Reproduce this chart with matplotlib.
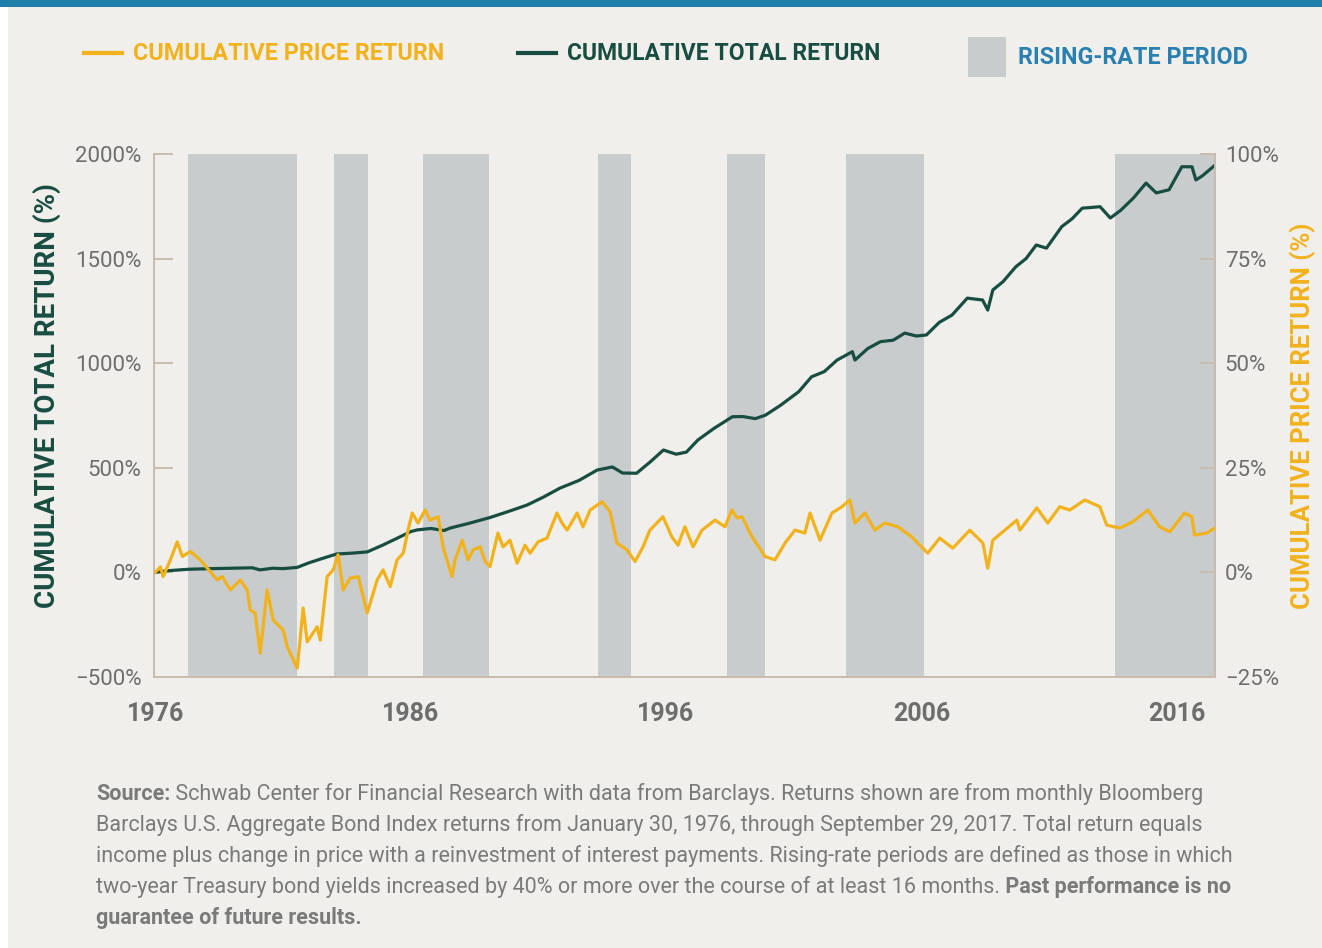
import matplotlib
matplotlib.use("Agg")
import matplotlib.pyplot as plt
from matplotlib.lines import Line2D
from matplotlib.patches import Rectangle
from matplotlib.ticker import FuncFormatter

# ---- data ----
total_years = [1976.0, 1976.5, 1977.3, 1978.2, 1979.0, 1979.8, 1980.1, 1980.6, 1981.0, 1981.56,
               1982.0, 1982.5, 1983.1, 1983.7, 1984.3, 1984.9, 1985.5, 1986.0, 1986.25, 1986.8,
               1987.3, 1987.55, 1988.3, 1989.1, 1989.8, 1990.56, 1991.2, 1991.85, 1992.6, 1993.3,
               1993.9, 1994.3, 1994.85, 1995.4, 1995.9, 1996.4, 1996.8, 1997.25, 1997.9, 1998.6,
               1999.0, 1999.5, 1999.9, 2000.5, 2001.2, 2001.7, 2002.2, 2002.7, 2003.3, 2003.4,
               2003.9, 2004.4, 2004.9, 2005.35, 2005.8, 2006.2, 2006.7, 2007.2, 2007.8, 2008.4,
               2008.6, 2008.8, 2009.2, 2009.7, 2010.1, 2010.5, 2010.9, 2011.5, 2011.9, 2012.3,
               2013.0, 2013.4, 2013.8, 2014.3, 2014.8, 2015.2, 2015.7, 2016.2, 2016.6, 2016.75,
               2017.0, 2017.5]
total_return = [0, 8, 15, 18, 20, 22, 12, 20, 18, 24,
                45, 65, 88, 92, 98, 130, 165, 195, 203, 210,
                200, 212, 235, 262, 290, 322, 360, 403, 440, 489,
                504, 475, 474, 530, 585, 565, 575, 633, 690, 744,
                745, 735, 752, 800, 864, 935, 960, 1015, 1055, 1015,
                1070, 1103, 1110, 1144, 1130, 1135, 1195, 1230, 1311, 1302,
                1254, 1350, 1390, 1461, 1500, 1565, 1550, 1653, 1690, 1741,
                1748, 1694, 1730, 1789, 1861, 1814, 1829, 1939, 1939, 1876,
                1895, 1947]

price_years = [1976.00, 1976.20, 1976.31, 1976.59, 1976.86, 1977.06, 1977.37, 1977.76, 1978.04, 1978.43,
               1978.62, 1978.94, 1979.33, 1979.60, 1979.72, 1979.91, 1980.11, 1980.38, 1980.62, 1981.01,
               1981.17, 1981.56, 1981.79, 1981.95, 1982.34, 1982.46, 1982.73, 1982.97, 1983.16, 1983.36,
               1983.63, 1983.95, 1984.30, 1984.69, 1984.92, 1985.20, 1985.47, 1985.71, 1985.90, 1986.06,
               1986.29, 1986.57, 1986.76, 1987.08, 1987.27, 1987.62, 1987.74, 1988.02, 1988.25, 1988.45,
               1988.72, 1988.92, 1989.11, 1989.42, 1989.62, 1989.89, 1990.17, 1990.48, 1990.68, 1990.99,
               1991.34, 1991.73, 1991.93, 1992.13, 1992.52, 1992.75, 1993.03, 1993.50, 1993.81, 1994.08,
               1994.47, 1994.79, 1995.10, 1995.37, 1995.88, 1996.23, 1996.47, 1996.74, 1997.06, 1997.41,
               1997.92, 1998.31, 1998.58, 1998.78, 1998.98, 1999.37, 1999.88, 2000.27, 2000.66, 2001.05,
               2001.44, 2001.64, 2002.03, 2002.50, 2002.89, 2003.20, 2003.40, 2003.79, 2004.18, 2004.57,
               2005.08, 2005.62, 2006.25, 2006.72, 2007.23, 2007.90, 2008.41, 2008.60, 2008.80, 2009.74,
               2009.86, 2010.52, 2010.95, 2011.42, 2011.81, 2012.40, 2012.99, 2013.26, 2013.77, 2014.28,
               2014.87, 2015.33, 2015.73, 2016.31, 2016.59, 2016.70, 2017.17, 2017.49]
price_return = [0, 1.3, -1.0, 3, 7.3, 3.8, 5, 3, 1, -1.8,
                -1, -4.2, -1.8, -4.2, -9, -9.7, -19.3, -4.2, -11.4, -13.8,
                -17.8, -22.9, -8.5, -16.6, -13, -16.2, -1.0, 0.6, 4.2, -4.2,
                -1.4, -1, -9.7, -1.8, 0.6, -3.4, 3, 4.6, 10.1, 14.2,
                11.8, 14.9, 12.5, 13.3, 6.1, -1.0, 3, 7.7, 3, 5.4,
                6.1, 2.6, 1.4, 9.4, 6.1, 7.7, 2.2, 6.5, 4.6, 7.3,
                8.2, 14.2, 11.8, 10.1, 14.2, 10.9, 14.9, 16.9, 14.5, 7.0,
                5.4, 2.6, 6.1, 10.1, 13.3, 8.5, 6.5, 10.9, 6.1, 10.1,
                12.5, 10.9, 14.9, 13.0, 13.3, 8.5, 3.8, 3.0, 7.0, 10.1,
                9.4, 14.2, 7.7, 14.2, 15.7, 17.3, 11.8, 14.2, 10.1, 11.8,
                10.9, 8.5, 4.6, 8.2, 5.8, 10.1, 7.0, 1.0, 7.7, 12.5,
                10.1, 15.4, 11.8, 15.7, 14.9, 17.3, 15.7, 11.3, 10.6, 12.1,
                14.9, 10.9, 9.7, 14.2, 13.3, 8.9, 9.4, 10.6]

rising_start = [1977.29, 1983.0, 1986.49, 1993.34, 1998.39, 2003.04, 2013.57]
rising_end = [1981.56, 1984.34, 1989.07, 1994.63, 1999.87, 2006.1, 2017.5]

left_ticks = [-500, 0, 500, 1000, 1500, 2000]
right_ticks = [-25, 0, 25, 50, 75, 100]
year_ticks = [1976, 1986, 1996, 2006, 2016]

BG = "#f0efec"
GREEN = "#184d42"
GOLD = "#f2b21c"
BLUE = "#2a80b0"
SHADE = "#c9cccd"
SPINE = "#c7bcae"
TICKTXT = "#6e6e6e"

W, H = 1322, 948
fig = plt.figure(figsize=(W / 100, H / 100), dpi=100, facecolor="white")
fig.patches.append(Rectangle((8 / W, 0), 1 - 8 / W, 1, transform=fig.transFigure,
                             facecolor=BG, edgecolor="none", zorder=-10))
fig.patches.append(Rectangle((0, 1 - 7 / H), 1, 7 / H, transform=fig.transFigure,
                             facecolor="#1f7fab", edgecolor="none", zorder=-5))

ax = fig.add_axes([154 / W, 1 - 677 / H, 1061 / W, 523 / H])
ax.set_facecolor("none")
ax2 = ax.twinx()

for s, e in zip(rising_start, rising_end):
    ax.axvspan(s, e, color=SHADE, lw=0, zorder=0)

ax.plot(total_years, total_return, color=GREEN, lw=2.3, zorder=3)
ax2.plot(price_years, price_return, color=GOLD, lw=2.3, zorder=3)

ax.set_xlim(1975.95, 2017.5)
ax.set_ylim(-500, 2000)
ax2.set_ylim(-25, 100)

ax.set_yticks(left_ticks)
ax2.set_yticks(right_ticks)
ax.set_xticks(year_ticks)
pct = FuncFormatter(lambda v, _: f"{v:.0f}%".replace("-", "\u2212"))
ax.yaxis.set_major_formatter(pct)
ax2.yaxis.set_major_formatter(pct)

for a in (ax, ax2):
    a.spines["top"].set_visible(False)
    for side in ("left", "right", "bottom"):
        a.spines[side].set_color(SPINE)
        a.spines[side].set_linewidth(1.4)

ax.tick_params(axis="y", direction="in", length=14, width=1.4, color=SPINE,
               pad=9, labelsize=16, labelcolor=TICKTXT)
ax2.tick_params(axis="y", direction="in", length=11, width=1.4, color=SPINE,
                pad=7, labelsize=16, labelcolor=TICKTXT)
ax.tick_params(axis="x", length=0, pad=18, labelsize=18, labelcolor=TICKTXT)
for lbl in ax.get_xticklabels():
    lbl.set_fontweight("bold")
for lbl in ax.get_yticklabels() + ax2.get_yticklabels() + ax.get_xticklabels():
    lbl.set_family("Roboto")

ax.set_ylabel("CUMULATIVE TOTAL RETURN (%)", color=GREEN, fontsize=20,
              fontweight="bold", family="Roboto")
ax.yaxis.set_label_coords(-0.088, 0.539)
ax2.set_ylabel("CUMULATIVE PRICE RETURN (%)", color=GOLD, fontsize=18.5,
               fontweight="bold", family="Roboto", labelpad=8)

# ---- legend across the top ----
def fx(px):
    return px / W

def fy(py):
    return 1 - py / H

fig.add_artist(Line2D([fx(84), fx(122)], [fy(53), fy(53)], color=GOLD, lw=3))
fig.text(fx(133), fy(53), "CUMULATIVE PRICE RETURN", color=GOLD, fontsize=16.8,
         fontweight="bold", family="Roboto", va="center")
fig.add_artist(Line2D([fx(518), fx(556)], [fy(53), fy(53)], color=GREEN, lw=3))
fig.text(fx(567), fy(53), "CUMULATIVE TOTAL RETURN", color=GREEN, fontsize=16.5,
         fontweight="bold", family="Roboto", va="center")
fig.patches.append(Rectangle((fx(968), fy(77)), 38 / W, 40 / H, transform=fig.transFigure,
                             facecolor=SHADE, edgecolor="none"))
fig.text(fx(1018), fy(57), "RISING-RATE PERIOD", color=BLUE, fontsize=16.8,
         fontweight="bold", family="Roboto", va="center")

# ---- footnote ----
note_lines = [
    [("Source:", "bold"), (" Schwab Center for Financial Research with data from Barclays. Returns shown are from monthly Bloomberg", "normal")],
    [("Barclays U.S. Aggregate Bond Index returns from January 30, 1976, through September 29, 2017. Total return equals", "normal")],
    [("income plus change in price with a reinvestment of interest payments. Rising-rate periods are defined as those in which", "normal")],
    [("two-year Treasury bond yields increased by 40% or more over the course of at least 16 months.", "normal"), (" Past performance is no", "bold")],
    [("guarantee of future results.", "bold")],
]
fig.canvas.draw()
renderer = fig.canvas.get_renderer()
for i, parts in enumerate(note_lines):
    x = fx(96)
    y = fy(794 + 31 * i)
    for txt, wt in parts:
        t = fig.text(x, y, txt, color="#7a7a7a", fontsize=15.5, fontweight=wt,
                     family="Roboto", va="center")
        bb = t.get_window_extent(renderer=renderer)
        x += bb.width / W

fig.savefig("out.png", dpi=100, facecolor=fig.get_facecolor())
